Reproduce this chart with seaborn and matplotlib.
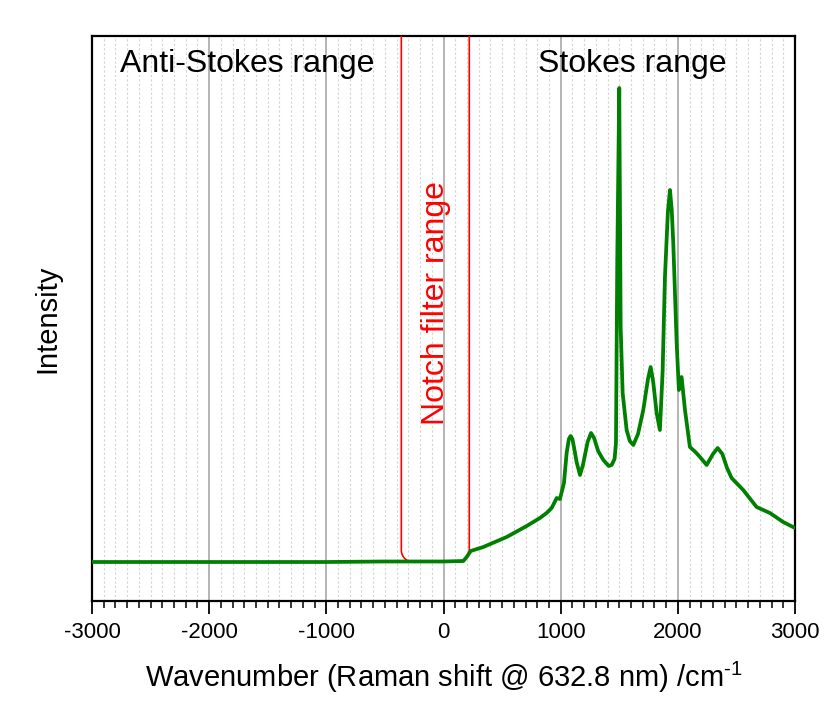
import matplotlib
matplotlib.use("Agg")
import matplotlib.pyplot as plt
from matplotlib.patches import PathPatch
from matplotlib.path import Path
from matplotlib.ticker import MultipleLocator
import seaborn as sns
import pandas as pd
import numpy as np

# Raman spectrum (arbitrary intensity units, baseline = 0)
wavenumber = [-3000, -2000, -1000, -500, 0, 169, 198, 232, 340, 539, 710, 823, 880,
              923, 966, 994, 1028, 1051, 1070, 1085, 1100, 1115, 1136, 1165, 1190, 1230, 1259,
              1285, 1320, 1364, 1410, 1435, 1460, 1472, 1483, 1500, 1512, 1529, 1563, 1590, 1620,
              1660, 1705, 1745, 1768, 1790, 1819, 1847, 1870, 1890, 1915, 1933, 1948, 1961,
              1990, 2009, 2032, 2061, 2103, 2150, 2189, 2246, 2300, 2340, 2380, 2420, 2459,
              2558, 2672, 2786, 2899, 3000]
intensity = [0, 0, 0, 0.5, 0.5, 1, 5, 11, 15, 25, 36, 44, 49,
             54, 64, 63, 79, 109, 123, 126, 123, 114, 100, 87, 97, 120, 129,
             124, 111, 102, 96, 97, 103, 119, 302, 474, 235, 169, 132, 121, 117,
             128, 152, 183, 195, 180, 149, 132, 190, 285, 350, 372, 352, 319,
             219, 172, 185, 152, 115, 110, 105, 97, 108, 114, 108, 94, 84,
             72, 55, 49, 40, 34]

notch_range = [-360, 220]
region_labels = ["Anti-Stokes range", "Stokes range", "Notch filter range"]
region_label_x = [-1677, 1608, -64]

df = pd.DataFrame({"wavenumber": wavenumber, "intensity": intensity})

sns.set_style("white")
plt.rcParams["font.family"] = ["Liberation Sans", "DejaVu Sans"]
plt.rcParams["mathtext.fontset"] = "custom"
plt.rcParams["mathtext.rm"] = "Liberation Sans"
plt.rcParams["axes.unicode_minus"] = False
plt.rcParams["text.color"] = "black"
plt.rcParams["axes.labelcolor"] = "black"
plt.rcParams["xtick.color"] = "black"

fig = plt.figure(figsize=(8.35, 7.06), dpi=100)
ax = fig.add_axes([92 / 835, 105 / 706, 703 / 835, 565 / 706])

sns.lineplot(data=df, x="wavenumber", y="intensity", color="#008000", lw=2.7, ax=ax, zorder=4)

ax.set_xlim(-3000, 3000)
ax.set_ylim(-39, 526)

# grid: solid major every 1000, dotted minor every 100
ax.xaxis.set_major_locator(MultipleLocator(1000))
ax.xaxis.set_minor_locator(MultipleLocator(100))
ax.grid(False)
ax.grid(True, axis="x", which="major", color="#b4b4b4", lw=1.4, ls="-", zorder=0)
ax.grid(True, axis="x", which="minor", color="#d4d4d4", lw=0.8, ls=(0, (2, 2)), zorder=0)
ax.set_axisbelow(True)

ax.tick_params(axis="x", which="major", direction="out", length=9, width=1.3,
               labelsize=16, color="black", pad=6, bottom=True)
ax.tick_params(axis="x", which="minor", direction="out", length=5, width=1.1,
               color="black", bottom=True)
ax.set_yticks([])

for sp in ax.spines.values():
    sp.set_visible(True)
    sp.set_color("black")
    sp.set_linewidth(1.6)

# notch filter box: open at the top, rounded bottom corners
x0, x1 = notch_range
rx, ry = 100, 12
top = 600
t = np.linspace(np.pi, 1.5 * np.pi, 14)
left_arc = np.column_stack([x0 + rx + rx * np.cos(t), ry + ry * np.sin(t)])
t2 = np.linspace(1.5 * np.pi, 2 * np.pi, 14)
right_arc = np.column_stack([x1 - rx + rx * np.cos(t2), ry + ry * np.sin(t2)])
verts = np.vstack([[x0, top], left_arc, right_arc, [x1, top]])
ax.add_patch(PathPatch(Path(verts), fill=False, edgecolor="red", lw=1.2, zorder=3))

ax.text(region_label_x[0], 0.936, region_labels[0], transform=ax.get_xaxis_transform(),
        ha="center", va="baseline", fontsize=23)
ax.text(region_label_x[1], 0.936, region_labels[1], transform=ax.get_xaxis_transform(),
        ha="center", va="baseline", fontsize=23)
ax.text(region_label_x[2], 0.527, region_labels[2], transform=ax.get_xaxis_transform(),
        ha="center", va="center", rotation=90, fontsize=23, color="red")

ax.set_xlabel(r"Wavenumber (Raman shift @ 632.8 nm) /cm$^{\text{-1}}$", fontsize=21, labelpad=12)
ax.set_ylabel("Intensity", fontsize=21, labelpad=22)

fig.savefig("out.png", dpi=100)
